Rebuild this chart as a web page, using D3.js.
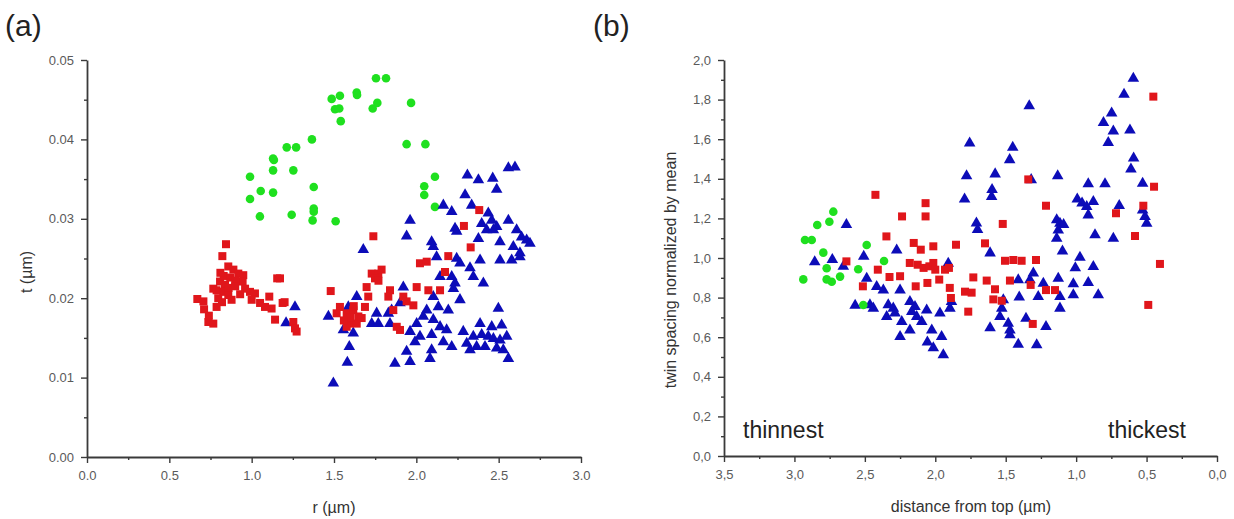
<!DOCTYPE html>
<html>
<head>
<meta charset="utf-8">
<script src="https://cdn.jsdelivr.net/npm/d3@7"></script>
<style>
  html, body { margin: 0; padding: 0; background: #fff; }
  svg { display: block; }
  text { font-family: "Liberation Sans", Arial, sans-serif; }
</style>
</head>
<body>
<svg id="chart" width="1234" height="519"></svg>
<script>
// ---------- Panel (a) data: [r (µm), t (µm)] ----------
const aGreen = [[0.99,0.0353],[0.99,0.0325],[1.05,0.0303],[1.055,0.0335],[1.13,0.0333],[1.13,0.0361],[1.13,0.0376],[1.135,0.0374],[1.213,0.0390],[1.27,0.0390],[1.253,0.0361],[1.243,0.0305],[1.366,0.0400],[1.377,0.0340],[1.377,0.0313],[1.377,0.0309],[1.37,0.0298],[1.51,0.0297],[1.486,0.0451],[1.536,0.0455],[1.506,0.0438],[1.532,0.0439],[1.541,0.0423],[1.638,0.0459],[1.64,0.0456],[1.735,0.0439],[1.763,0.0446],[1.755,0.0477],[1.816,0.0477],[1.968,0.0446],[1.941,0.0394],[2.055,0.0394],[2.113,0.0353],[2.048,0.0341],[2.048,0.0330],[2.113,0.0315]];
const aRed = [[0.844,0.0268],[0.822,0.0253],[0.858,0.0240],[0.889,0.0236],[0.919,0.0231],[0.949,0.0229],[0.945,0.0221],[0.808,0.0221],[0.838,0.0217],[0.767,0.0212],[0.787,0.0210],[0.828,0.0208],[0.858,0.0204],[0.878,0.0198],[0.797,0.0200],[0.787,0.0189],[0.670,0.0199],[0.707,0.0196],[0.711,0.0186],[0.737,0.0170],[0.767,0.0168],[0.99,0.0208],[1.02,0.0206],[1.051,0.0194],[1.081,0.0189],[1.107,0.0202],[1.121,0.0187],[1.142,0.0173],[1.172,0.0225],[1.155,0.0225],[1.188,0.0194],[1.253,0.0170],[1.273,0.0158],[1.263,0.0162],[0.83,0.0228],[0.87,0.0226],[0.90,0.0222],[0.86,0.0213],[0.82,0.0195],[0.74,0.0178],[0.96,0.0212],[0.93,0.0205],[1.0,0.0198],[1.2,0.0195],[0.90,0.0215],[0.81,0.0232],
  [1.739,0.0278],[1.480,0.0209],[1.536,0.0189],[1.516,0.0181],[1.577,0.0181],[1.617,0.0185],[1.648,0.0177],[1.597,0.0168],[1.638,0.0168],[1.577,0.0164],[1.668,0.0175],[1.688,0.0189],[1.708,0.0202],[1.698,0.0214],[1.729,0.0231],[1.769,0.0231],[1.789,0.0236],[1.749,0.0225],[1.840,0.0210],[1.830,0.0202],[1.921,0.0202],[1.941,0.0196],[1.982,0.0191],[1.860,0.0185],[1.881,0.0164],[1.901,0.0160],[2.002,0.0214],[2.073,0.0210],[2.144,0.0210],[2.022,0.0244],[2.063,0.0246],[2.174,0.0233],[2.194,0.0253],[2.289,0.0291],[2.330,0.0264],[2.382,0.0311],[1.60,0.0176],[1.56,0.0172],[1.62,0.0190],[1.77,0.0222]];
const aBlue = [[2.559,0.0364],[2.599,0.0365],[2.310,0.0355],[2.377,0.0349],[2.464,0.0351],[2.488,0.0337],[2.296,0.0330],[2.336,0.0317],[2.164,0.0317],[2.215,0.0309],[2.437,0.0307],[2.397,0.0294],[2.458,0.0298],[2.488,0.0290],[2.427,0.0286],[2.468,0.0286],[2.559,0.0298],[2.235,0.0288],[2.245,0.0284],[2.609,0.0286],[2.639,0.0277],[2.670,0.0273],[2.690,0.0269],[2.589,0.0265],[2.629,0.0257],[2.508,0.0271],[2.377,0.0275],[2.508,0.0248],[2.579,0.0248],[2.629,0.0252],[2.387,0.0248],[1.962,0.0298],[1.941,0.0278],[2.093,0.0271],[2.103,0.0265],[2.123,0.0252],[2.245,0.0250],[2.265,0.0244],[2.326,0.0238],[2.346,0.0227],[2.407,0.0219],[2.215,0.0227],[2.235,0.0219],[2.225,0.0212],[2.144,0.0227],[2.265,0.0198],[1.678,0.0261],[1.921,0.0214],[2.103,0.0202],[2.134,0.0189],[2.194,0.0185],[2.063,0.0185],[2.042,0.0177],[2.002,0.0168],[2.103,0.0173],[2.144,0.0164],[2.184,0.0160],[2.093,0.0154],[2.022,0.0152],[1.962,0.0158],[1.992,0.0145],[2.164,0.0145],[2.215,0.0139],[2.285,0.0158],[2.387,0.0168],[2.458,0.0164],[2.498,0.0187],[2.518,0.0166],[2.346,0.0152],[2.397,0.0154],[2.437,0.0152],[2.468,0.0149],[2.508,0.0147],[2.549,0.0152],[2.306,0.0143],[2.326,0.0135],[2.366,0.0139],[2.417,0.0139],[2.488,0.0137],[2.528,0.0135],[2.559,0.0124],[2.093,0.0135],[2.083,0.0124],[1.962,0.0120],[1.941,0.0133],[1.870,0.0118],[1.840,0.0168],[1.830,0.0181],[1.850,0.0185],[1.901,0.0194],[1.759,0.0181],[1.729,0.0168],[1.769,0.0168],[1.638,0.0202],[1.587,0.0189],[1.466,0.0177],[1.557,0.0160],[1.617,0.0156],[1.593,0.0139],[1.581,0.0119],[1.496,0.0093],[1.263,0.0189],[1.209,0.0169]];

// ---------- Panel (b) data: [distance from top (µm), normalized twin spacing] ----------
const bGreen = [[2.724,1.234],[2.752,1.183],[2.838,1.167],[2.925,1.091],[2.877,1.091],[2.795,1.027],[2.771,0.948],[2.937,0.892],[2.771,0.892],[2.735,0.880],[2.676,0.906],[2.547,0.943],[2.487,1.066],[2.364,0.985],[2.511,0.763]];
const bRed = [[2.631,0.983],[2.514,0.857],[2.425,1.319],[2.408,0.941],[2.347,1.109],[2.325,0.904],[2.250,0.908],[2.236,1.210],[2.181,0.975],[2.153,1.076],[2.139,0.857],[2.103,1.042],[2.069,1.277],[2.069,1.210],[2.125,0.966],[2.083,0.950],[2.042,0.958],[2.014,0.975],[2.056,0.874],[2.014,1.059],[2.0,0.941],[1.972,0.891],[1.931,0.941],[1.903,0.950],[1.897,0.849],[1.889,0.798],[1.853,1.067],[1.789,0.830],[1.742,0.825],[1.766,0.729],[1.730,0.902],[1.647,1.074],[1.635,0.886],[1.588,0.791],[1.528,0.784],[1.576,0.842],[1.521,1.172],[1.505,0.986],[1.446,0.990],[1.387,0.986],[1.470,0.886],[1.340,1.397],[1.308,0.667],[1.285,0.990],[1.323,0.864],[1.214,1.264],[1.214,0.838],[1.150,0.838],[0.717,1.226],[0.582,1.111],[0.523,1.264],[0.488,0.763],[0.452,1.815],[0.447,1.360],[0.405,0.970]];
const bBlue = [[2.856,0.980],[2.731,0.992],[2.631,1.168],[2.653,0.958],[2.569,0.760],[2.508,1.008],[2.487,0.897],[2.464,0.763],[2.440,0.746],[2.416,0.855],[2.369,0.838],[2.334,0.763],[2.298,0.746],[2.345,0.704],[2.286,0.721],[2.274,1.040],[2.250,0.838],[2.250,0.603],[2.238,0.678],[2.180,0.779],[2.144,0.754],[2.167,0.729],[2.132,0.704],[2.096,0.678],[2.180,0.636],[2.061,0.737],[2.056,0.575],[2.014,0.546],[2.025,0.636],[1.967,0.721],[1.955,0.603],[1.943,0.510],[1.896,0.746],[1.908,0.973],[1.885,0.780],[1.792,1.297],[1.778,1.415],[1.756,1.580],[1.708,1.176],[1.700,1.143],[1.611,0.647],[1.611,1.025],[1.597,1.345],[1.600,1.310],[1.575,1.424],[1.541,0.704],[1.528,0.746],[1.517,0.788],[1.482,0.670],[1.470,0.636],[1.470,0.611],[1.472,1.496],[1.450,1.558],[1.411,0.563],[1.404,0.802],[1.411,0.889],[1.356,0.695],[1.333,1.768],[1.319,1.395],[1.304,0.923],[1.328,0.889],[1.280,0.561],[1.269,0.805],[1.233,0.872],[1.214,0.653],[1.131,1.414],[1.138,1.192],[1.115,1.175],[1.089,1.168],[1.127,1.141],[1.138,1.099],[1.097,1.034],[1.127,0.897],[1.115,0.805],[1.115,0.746],[1.020,0.869],[1.020,0.813],[1.006,0.950],[0.973,1.003],[0.992,1.297],[0.958,1.277],[0.925,1.259],[0.914,1.217],[0.878,1.284],[0.914,1.374],[0.878,0.956],[0.914,0.875],[0.866,1.116],[0.843,0.813],[0.795,1.374],[0.806,1.684],[0.772,1.582],[0.748,1.731],[0.736,1.641],[0.736,1.099],[0.694,1.264],[0.660,1.826],[0.618,1.646],[0.611,1.449],[0.592,1.504],[0.594,1.907],[0.528,1.377],[0.528,1.242],[0.511,1.209],[0.499,1.175]];

// ---------- Tick values ----------
const aXTicks = [0, 0.5, 1.0, 1.5, 2.0, 2.5, 3.0];
const aXMinor = [0.25, 0.75, 1.25, 1.75, 2.25, 2.75];
const aYTicks = [0, 0.01, 0.02, 0.03, 0.04, 0.05];
const aYMinor = [0.005, 0.015, 0.025, 0.035, 0.045];
const bXTicks = [3.5, 3.0, 2.5, 2.0, 1.5, 1.0, 0.5, 0.0];
const bXMinor = [3.25, 2.75, 2.25, 1.75, 1.25, 0.75, 0.25];
const bYTicks = [0, 0.2, 0.4, 0.6, 0.8, 1.0, 1.2, 1.4, 1.6, 1.8, 2.0];
const bYMinor = [0.1, 0.3, 0.5, 0.7, 0.9, 1.1, 1.3, 1.5, 1.7, 1.9];

const COL_GREEN = "#1fe01f", COL_RED = "#e0161b", COL_BLUE = "#0c0cb8";
const AXIS_COL = "#3a3a3a", TICK_TXT = "#5a5a5a", LABEL_TXT = "#333";

const svg = d3.select("#chart");
svg.append("rect").attr("width", 1234).attr("height", 519).attr("fill", "#fff");

const xA = d3.scaleLinear().domain([0, 3]).range([87, 581]);
const yA = d3.scaleLinear().domain([0, 0.05]).range([457, 60]);
const xB = d3.scaleLinear().domain([3.5, 0]).range([724, 1217]);
const yB = d3.scaleLinear().domain([0, 2]).range([456, 60]);

const fmtDot1 = d3.format(".1f");
const fmtDot2 = d3.format(".2f");
const fmtComma1 = d => d3.format(".1f")(d).replace(".", ",");

function drawAxes(x, y, xTicks, xMinor, yTicks, yMinor, xFmt, yFmt) {
  const y0 = y.range()[0], x0 = x.range()[0];
  const gx = svg.append("g").attr("transform", `translate(0,${y0})`)
    .call(d3.axisBottom(x).tickValues(xTicks).tickFormat(xFmt).tickSize(6).tickSizeOuter(0).tickPadding(8));
  const gxm = svg.append("g").attr("transform", `translate(0,${y0})`)
    .call(d3.axisBottom(x).tickValues(xMinor).tickFormat("").tickSize(3).tickSizeOuter(0));
  gxm.select(".domain").remove();
  const gy = svg.append("g").attr("transform", `translate(${x0},0)`)
    .call(d3.axisLeft(y).tickValues(yTicks).tickFormat(yFmt).tickSize(6).tickSizeOuter(0).tickPadding(7));
  const gym = svg.append("g").attr("transform", `translate(${x0},0)`)
    .call(d3.axisLeft(y).tickValues(yMinor).tickFormat("").tickSize(3).tickSizeOuter(0));
  gym.select(".domain").remove();
  [gx, gxm, gy, gym].forEach(g => {
    g.selectAll(".domain").attr("stroke", AXIS_COL).attr("stroke-width", 1.8);
    g.selectAll(".tick line").attr("stroke", AXIS_COL).attr("stroke-width", 1.4);
    g.selectAll(".tick text").attr("fill", TICK_TXT).attr("font-size", 13)
      .attr("font-family", "'Liberation Sans', Arial, sans-serif");
  });
}

drawAxes(xA, yA, aXTicks, aXMinor, aYTicks, aYMinor, fmtDot1, fmtDot2);
drawAxes(xB, yB, bXTicks, bXMinor, bYTicks, bYMinor, fmtComma1, fmtComma1);

function drawPoints(data, x, y, type, size, color) {
  const sym = d3.symbol().type(type).size(size);
  svg.append("g").selectAll("path").data(data).join("path")
    .attr("d", sym)
    .attr("transform", d => `translate(${x(d[0])},${y(d[1])})`)
    .attr("fill", color);
}

// panel a
drawPoints(aGreen, xA, yA, d3.symbolCircle, 58, COL_GREEN);
drawPoints(aBlue, xA, yA, d3.symbolTriangle, 58, COL_BLUE);
drawPoints(aRed, xA, yA, d3.symbolSquare, 64, COL_RED);
// panel b
drawPoints(bBlue, xB, yB, d3.symbolTriangle, 58, COL_BLUE);
drawPoints(bRed, xB, yB, d3.symbolSquare, 64, COL_RED);
drawPoints(bGreen, xB, yB, d3.symbolCircle, 58, COL_GREEN);

// Panel letters
svg.append("text").attr("x", 5).attr("y", 36).attr("font-size", 30).attr("fill", "#222").text("(a)");
svg.append("text").attr("x", 593).attr("y", 36).attr("font-size", 30).attr("fill", "#222").text("(b)");

// Axis titles
svg.append("text").attr("x", 334).attr("y", 513).attr("text-anchor", "middle")
  .attr("font-size", 16).attr("fill", LABEL_TXT).text("r (µm)");
svg.append("text").attr("transform", "translate(32,272) rotate(-90)").attr("text-anchor", "middle")
  .attr("font-size", 16).attr("fill", LABEL_TXT).text("t (µm)");
svg.append("text").attr("x", 971).attr("y", 512).attr("text-anchor", "middle")
  .attr("font-size", 16).attr("fill", LABEL_TXT).text("distance from top (µm)");
svg.append("text").attr("transform", "translate(676,270) rotate(-90)").attr("text-anchor", "middle")
  .attr("font-size", 16).attr("fill", LABEL_TXT).text("twin spacing normalized by mean");

// Annotations
svg.append("text").attr("x", 743).attr("y", 438).attr("font-size", 23).attr("fill", "#222").text("thinnest");
svg.append("text").attr("x", 1108).attr("y", 438).attr("font-size", 23).attr("fill", "#222").text("thickest");
</script>
</body>
</html>
